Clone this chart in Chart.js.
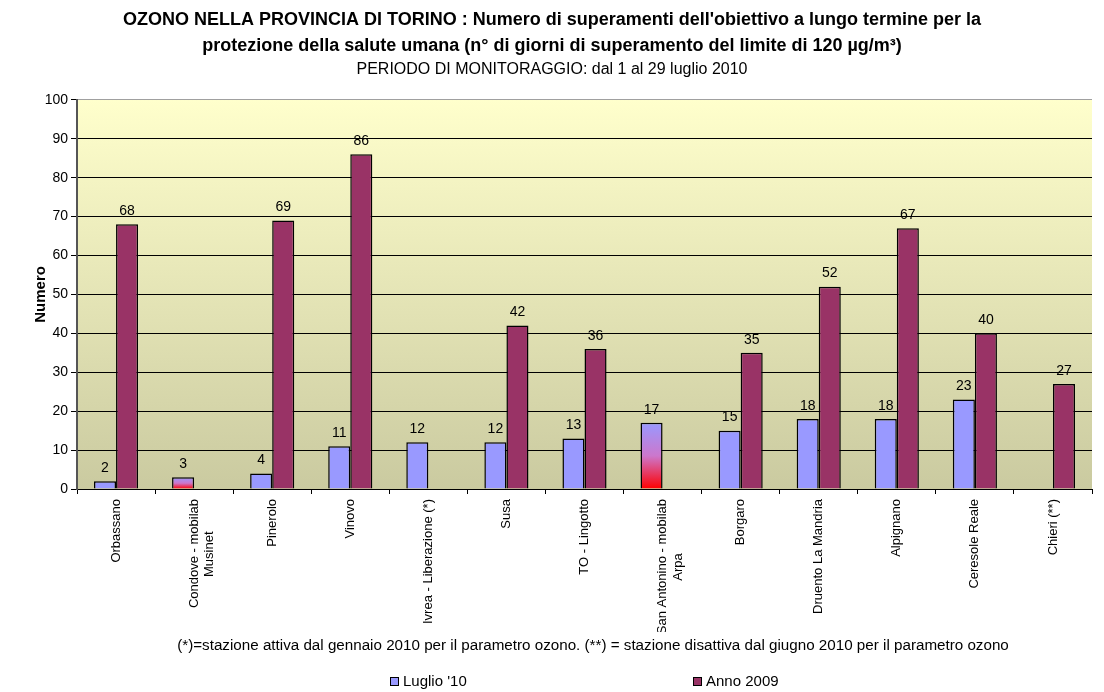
<!DOCTYPE html>
<html>
<head>
<meta charset="utf-8">
<script src="https://cdn.jsdelivr.net/npm/chart.js@4"></script>
<style>
  html, body { margin: 0; padding: 0; background: #fff; }
  #wrap { width: 1104px; height: 692px; }
</style>
</head>
<body>
<div id="wrap"><canvas id="ozono"></canvas></div>
<script>
const stazioni = [
    'Orbassano', ['Condove - mobilab', 'Musinet'], 'Pinerolo', 'Vinovo', 'Ivrea - Liberazione (*)',
    'Susa', 'TO - Lingotto', ['San Antonino - mobilab', 'Arpa'], 'Borgaro', 'Druento La Mandria',
    'Alpignano', 'Ceresole Reale', 'Chieri (**)'
];
const luglio10 = [2, 3, 4, 11, 12, 12, 13, 17, 15, 18, 18, 23, null];
const anno2009 = [68, null, 69, 86, null, 42, 36, null, 35, 52, 67, 40, 27];
// stazioni mobili (barre sfumate)
const mobili = [1, 7];
const yTicks = [0, 10, 20, 30, 40, 50, 60, 70, 80, 90, 100];

const titolo = [
    "OZONO NELLA PROVINCIA DI TORINO : Numero di superamenti dell'obiettivo a lungo termine per la",
    "protezione della salute umana (n° di giorni di superamento del limite di 120 µg/m³)"
];
const sottotitolo = 'PERIODO DI MONITORAGGIO: dal 1 al 29 luglio 2010';
const nota = '(*)=stazione attiva dal gennaio 2010 per il parametro ozono. (**) = stazione disattiva dal giugno 2010 per il parametro ozono';

const BLU = '#9999FF';
const VIOLA = '#993366';
const FONT = "'Liberation Sans', Arial, sans-serif";
const FONT_X = '13px ' + FONT;

// righe centrate nelle etichette su due righe (aggiunge spazi in coda alla riga corta)
const misura = document.createElement('canvas').getContext('2d');
misura.font = FONT_X;
function centra(lab) {
    if (!Array.isArray(lab)) return lab;
    const w = Math.max(...lab.map(s => misura.measureText(s).width));
    const sp = misura.measureText(' ').width;
    return lab.map(s => s + ' '.repeat(Math.round((w - misura.measureText(s).width) / 2 / sp)));
}

function coloreLuglio(c) {
    if (!mobili.includes(c.dataIndex)) return BLU;
    const chart = c.chart;
    if (!chart.chartArea || c.raw == null) return BLU;
    const y = chart.scales.y;
    const top = y.getPixelForValue(c.raw);
    const bot = y.getPixelForValue(0);
    const g = chart.ctx.createLinearGradient(0, top, 0, bot);
    g.addColorStop(0, BLU);
    g.addColorStop(0.5, '#CC77CC');
    g.addColorStop(1, '#FF0000');
    return g;
}

const sfondo = {
    id: 'sfondo',
    beforeDraw(chart) {
        const a = chart.chartArea;
        const ctx = chart.ctx;
        const g = ctx.createLinearGradient(0, a.top, 0, a.bottom);
        g.addColorStop(0, '#FFFFCC');
        g.addColorStop(1, '#CACAA0');
        ctx.save();
        ctx.fillStyle = g;
        ctx.fillRect(a.left, a.top, a.right - a.left, a.bottom - a.top);
        ctx.restore();
    }
};

const etichette = {
    id: 'etichette',
    afterDatasetsDraw(chart) {
        const ctx = chart.ctx;
        ctx.save();
        ctx.font = '14px ' + FONT;
        ctx.fillStyle = '#000';
        ctx.textAlign = 'center';
        ctx.textBaseline = 'bottom';
        chart.data.datasets.forEach((ds, i) => {
            chart.getDatasetMeta(i).data.forEach((bar, j) => {
                if (ds.data[j] == null) return;
                ctx.fillText(ds.data[j], bar.x, bar.y - 6);
            });
        });
        ctx.restore();
    }
};

const notaLegenda = {
    id: 'notaLegenda',
    afterDraw(chart) {
        const ctx = chart.ctx;
        ctx.save();
        ctx.fillStyle = '#000';
        ctx.font = '15.2px ' + FONT;
        ctx.textAlign = 'center';
        ctx.textBaseline = 'middle';
        ctx.fillText(nota, 593, 646);
        // legenda
        const voci = [[390, BLU, "Luglio '10"], [693, VIOLA, 'Anno 2009']];
        ctx.font = '15px ' + FONT;
        ctx.textAlign = 'left';
        voci.forEach(v => {
            ctx.fillStyle = v[1];
            ctx.fillRect(v[0], 677, 9, 9);
            ctx.strokeStyle = '#000';
            ctx.lineWidth = 1;
            ctx.strokeRect(v[0] + 0.5, 677.5, 8, 8);
            ctx.fillStyle = '#000';
            ctx.fillText(v[2], v[0] + 13, 682);
        });
        ctx.restore();
    }
};

new Chart(document.getElementById('ozono'), {
    type: 'bar',
    data: {
        labels: stazioni.map(centra),
        datasets: [{
            label: "Luglio '10",
            data: luglio10,
            backgroundColor: coloreLuglio,
            borderColor: '#000',
            borderWidth: 1.5
        }, {
            label: 'Anno 2009',
            data: anno2009,
            backgroundColor: VIOLA,
            borderColor: '#000',
            borderWidth: 1.5
        }]
    },
    options: {
        responsive: true,
        maintainAspectRatio: false,
        animation: false,
        layout: { padding: { left: 12, right: 12, top: 0, bottom: 60 } },
        datasets: { bar: { categoryPercentage: 0.565, barPercentage: 1 } },
        plugins: {
            legend: { display: false },
            tooltip: { enabled: false },
            title: {
                display: true,
                text: titolo,
                color: '#000',
                font: { family: FONT, size: 18, weight: 'bold', lineHeight: 1.44 },
                padding: { top: 7, bottom: 0 }
            },
            subtitle: {
                display: true,
                text: sottotitolo,
                color: '#000',
                font: { family: FONT, size: 16 },
                padding: { top: 1.5, bottom: 20.3 }
            }
        },
        scales: {
            x: {
                offset: true,
                grid: { offset: true, drawOnChartArea: false, drawTicks: true, tickLength: 5, color: '#000' },
                border: { color: '#000', width: 1 },
                ticks: {
                    minRotation: 90, maxRotation: 90, autoSkip: false,
                    color: '#000', padding: 5,
                    font: { family: FONT, size: 13 }
                },
                afterFit(scale) { scale.height = 143; }
            },
            y: {
                min: 0, max: 100,
                afterBuildTicks(scale) { scale.ticks = yTicks.map(v => ({ value: v })); },
                grid: {
                    color: c => (c.tick && c.tick.value === 100 ? '#A0A0A0' : '#000'),
                    tickColor: '#000',
                    tickLength: 6,
                    lineWidth: 1
                },
                border: { color: '#555', width: 2 },
                ticks: { color: '#000', padding: 3, font: { family: FONT, size: 14 } },
                title: {
                    display: true, text: 'Numero', color: '#000',
                    font: { family: FONT, size: 15, weight: 'bold' },
                    padding: { top: 20, bottom: 0 }
                },
                afterFit(scale) { scale.width = 65; }
            }
        }
    },
    plugins: [sfondo, etichette, notaLegenda]
});
</script>
</body>
</html>
